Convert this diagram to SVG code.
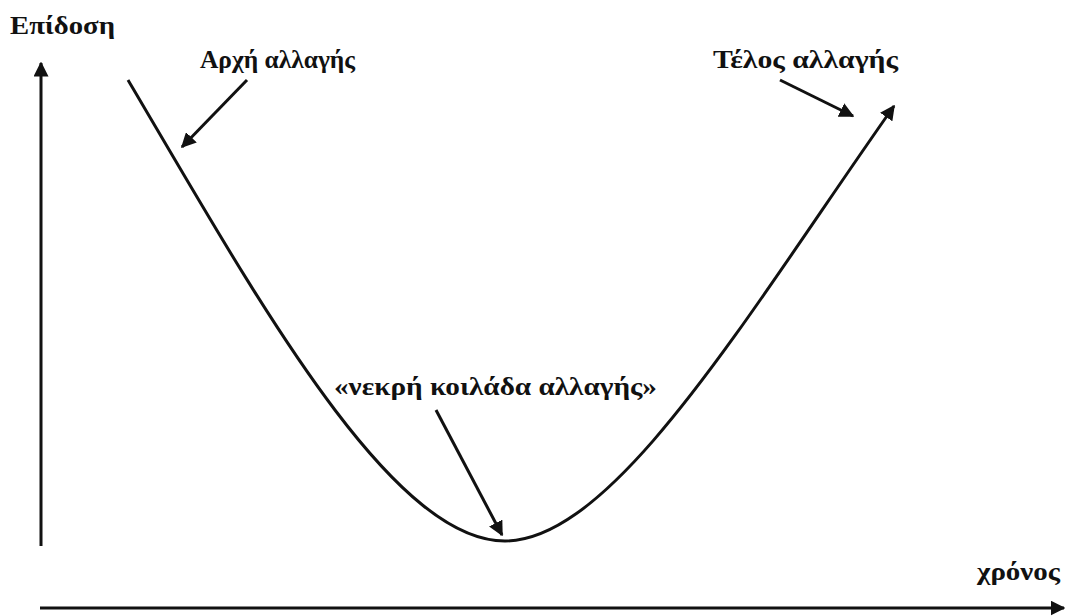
<svg xmlns="http://www.w3.org/2000/svg" width="1065" height="616" viewBox="0 0 1065 616">
<style>
.t{font-family:"Liberation Serif","Times New Roman",serif;font-weight:bold;font-size:25px;fill:#111}
.l{stroke:#111;stroke-width:3;fill:none}
</style>
<defs>
<marker id="ah" viewBox="0 0 10 10" refX="9" refY="5" markerWidth="5" markerHeight="5" orient="auto" markerUnits="strokeWidth">
<path d="M0,0 L10,5 L0,10 z" fill="#111"/>
</marker>
</defs>
<rect width="1065" height="616" fill="#fff"/>
<g id="axes">
<line class="l" x1="41" y1="546" x2="41" y2="63" marker-end="url(#ah)"/>
<line class="l" x1="40" y1="608" x2="1064" y2="608" marker-end="url(#ah)"/>
</g>
<g id="connectors">
<path id="curve" class="l" d="M128,80 C255,295 390,541 505,541 C615,541 750,310 894,106" marker-end="url(#ah)"/>
<line class="l" x1="247" y1="80" x2="182" y2="147" marker-end="url(#ah)"/>
<line class="l" x1="780" y1="80" x2="853" y2="116" marker-end="url(#ah)"/>
<line class="l" x1="436" y1="410" x2="502" y2="535" marker-end="url(#ah)"/>
</g>
<g id="label-performance"><text class="t" x="10" y="34" textLength="105" lengthAdjust="spacingAndGlyphs">Επίδοση</text></g>
<g id="label-start"><text class="t" x="200" y="68" textLength="155" lengthAdjust="spacingAndGlyphs">Αρχή αλλαγής</text></g>
<g id="label-end"><text class="t" x="713" y="68" textLength="185" lengthAdjust="spacingAndGlyphs">Τέλος αλλαγής</text></g>
<g id="label-valley"><text class="t" x="334" y="395" textLength="323" lengthAdjust="spacingAndGlyphs">«νεκρή κοιλάδα αλλαγής»</text></g>
<g id="label-time"><text class="t" x="977" y="580" textLength="83" lengthAdjust="spacingAndGlyphs">χρόνος</text></g>
</svg>
